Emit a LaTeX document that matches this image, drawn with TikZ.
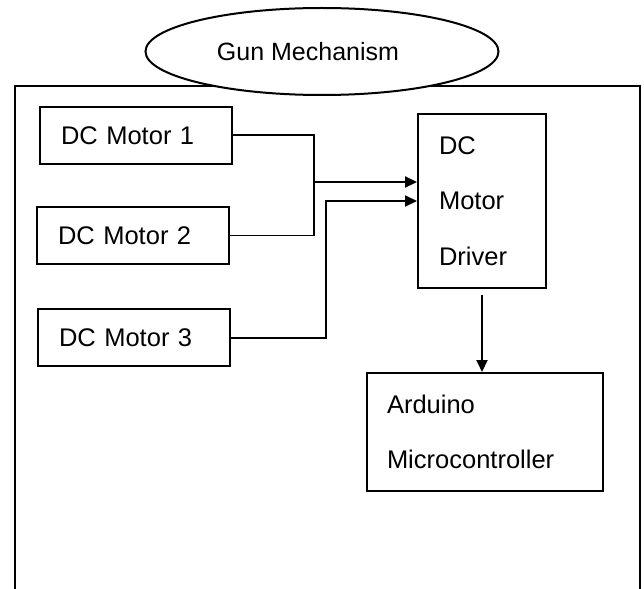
\documentclass[tikz,border=0pt]{standalone}
\usepackage{fontspec}
\setmainfont{Liberation Sans}
\usepackage{tikz}
\usetikzlibrary{shapes.geometric, arrows.meta, positioning}
\tikzset{>={Triangle[length=12pt,width=11pt]}}
\tikzset{blk/.style={draw, line width=2pt, inner xsep=21pt, inner ysep=0pt, align=left, font=\fontsize{25.5}{55.5}\selectfont}}
\tikzset{wire/.style={line width=2pt}}

\begin{document}
\begin{tikzpicture}[x=1pt,y=-1pt]
	\clip (0,0) rectangle (644,588);
	\draw [line width=2pt] (15,86) rectangle (640,620);
	\node [ellipse, draw, fill=white, line width=2pt, minimum width=353pt, minimum height=87pt, inner sep=0pt, font=\fontsize{25}{30}\selectfont] (gun) at (322,51.5) {Gun Mechanism\kern28pt};
	\node [blk, text width=150pt, minimum height=57pt] (m1) at (136,135.5) {DC Motor 1};
	\node [blk, text width=150pt, minimum height=57pt] (m2) at (133,235.5) {DC Motor 2};
	\node [blk, text width=150pt, minimum height=57pt] (m3) at (134,337.5) {DC Motor 3};
	\node [blk, text width=86pt, minimum height=174pt] (drv) at (482,201) {DC\\Motor\\Driver};
	\node [blk, text width=196pt, inner xsep=20pt, minimum height=118pt] (ard) at (485,432) {Arduino\\Microcontroller};
	% motors to driver
	\coordinate (bus) at (314,0);
	\coordinate (riser) at (326,0);
	\coordinate (in1) at ([yshift=19pt]drv.west);
	\draw [wire] (m1.east) -- (m1.east -| bus) -- (m2.east -| bus);
	\draw [line width=1pt] (m2.east) -- (m2.east -| bus);
	\draw [wire, ->] (in1 -| bus) -- (in1);
	\draw [wire, ->] (m3.east) -- (m3.east -| riser) -- (riser |- drv.west) -- (drv.west);
	% driver to arduino
	\draw [wire, ->] ([yshift=-6pt]drv.south) -- (ard.north -| drv.south);
\end{tikzpicture}
\end{document}
